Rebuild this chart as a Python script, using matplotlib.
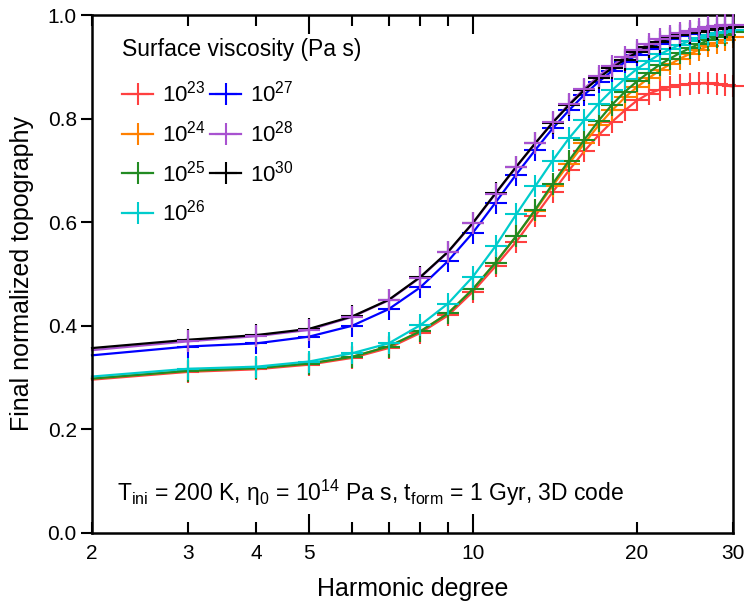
import numpy as np
import matplotlib
matplotlib.use("Agg")
import matplotlib.pyplot as plt
from matplotlib.ticker import FixedLocator, FixedFormatter

plt.rcParams['font.family'] = ['Liberation Sans', 'DejaVu Sans']
plt.rcParams['mathtext.fontset'] = 'custom'
plt.rcParams['mathtext.rm'] = 'Liberation Sans'
plt.rcParams['mathtext.it'] = 'Liberation Sans:italic'

# harmonic degrees 2..30
degree = list(range(2, 31))

# final normalized topography for each surface viscosity
topo_1e23 = [0.296, 0.311, 0.316, 0.325, 0.338, 0.357, 0.386, 0.420, 0.466, 0.515,
             0.562, 0.612, 0.658, 0.700, 0.737, 0.768, 0.794, 0.816, 0.835, 0.848,
             0.856, 0.861, 0.865, 0.867, 0.868, 0.868, 0.866, 0.864, 0.862]
topo_1e24 = [0.298, 0.313, 0.318, 0.327, 0.340, 0.360, 0.389, 0.424, 0.471, 0.522,
             0.573, 0.622, 0.670, 0.713, 0.752, 0.787, 0.816, 0.841, 0.861, 0.878,
             0.893, 0.905, 0.916, 0.925, 0.933, 0.940, 0.946, 0.952, 0.958]
topo_1e25 = [0.298, 0.313, 0.318, 0.327, 0.340, 0.360, 0.389, 0.424, 0.471, 0.522,
             0.573, 0.624, 0.674, 0.719, 0.759, 0.796, 0.827, 0.852, 0.872, 0.889,
             0.904, 0.916, 0.927, 0.936, 0.944, 0.951, 0.957, 0.962, 0.967]
topo_1e26 = [0.302, 0.317, 0.321, 0.331, 0.347, 0.366, 0.401, 0.443, 0.495, 0.554,
             0.615, 0.669, 0.719, 0.762, 0.797, 0.829, 0.855, 0.877, 0.896, 0.911,
             0.924, 0.934, 0.943, 0.950, 0.956, 0.961, 0.965, 0.968, 0.971]
topo_1e27 = [0.343, 0.360, 0.366, 0.379, 0.400, 0.432, 0.474, 0.525, 0.580, 0.638,
             0.692, 0.739, 0.781, 0.816, 0.846, 0.871, 0.892, 0.909, 0.923, 0.935,
             0.945, 0.953, 0.959, 0.964, 0.968, 0.971, 0.973, 0.975, 0.977]
topo_1e28 = [0.353, 0.370, 0.380, 0.392, 0.417, 0.449, 0.493, 0.542, 0.598, 0.655,
             0.706, 0.752, 0.793, 0.828, 0.858, 0.882, 0.902, 0.919, 0.932, 0.944,
             0.953, 0.960, 0.966, 0.970, 0.973, 0.976, 0.978, 0.980, 0.981]
topo_1e30 = [0.357, 0.373, 0.382, 0.394, 0.418, 0.450, 0.494, 0.543, 0.599, 0.656,
             0.707, 0.752, 0.792, 0.826, 0.855, 0.878, 0.898, 0.914, 0.928, 0.939,
             0.948, 0.955, 0.961, 0.965, 0.968, 0.971, 0.973, 0.975, 0.976]

series = [topo_1e23, topo_1e24, topo_1e25, topo_1e26, topo_1e27, topo_1e28, topo_1e30]
labels = [r"$\mathregular{10^{23}}$", r"$\mathregular{10^{24}}$", r"$\mathregular{10^{25}}$",
          r"$\mathregular{10^{26}}$", r"$\mathregular{10^{27}}$", r"$\mathregular{10^{28}}$",
          r"$\mathregular{10^{30}}$"]
colors = ["#ff4040", "#ff8000", "#228b22", "#00cccc", "#0000ff", "#a852d0", "#000000"]

fig = plt.figure(figsize=(7.47, 6.08), dpi=100)
ax = fig.add_axes([0.1232, 0.1234, 0.8581, 0.8519])

for y, lab, col in zip(series, labels, colors):
    ax.plot(degree, y, color=col, lw=1.6, marker='+', markersize=16, mew=1.5,
            markevery=slice(1, None), label=lab, clip_on=False)

# purple markers sit on top of the black curve in the original
ax.plot(degree, topo_1e28, ls='none', color=colors[5], marker='+', markersize=16,
        mew=1.5, markevery=slice(1, None), clip_on=False, zorder=3)

ax.set_xscale('log')
ax.set_xlim(2, 30)
ax.set_ylim(0, 1.0)

# x ticks: long at 5 and 10, short elsewhere, inward top and bottom
ax.xaxis.set_major_locator(FixedLocator([5, 10]))
ax.xaxis.set_major_formatter(FixedFormatter(["5", "10"]))
ax.xaxis.set_minor_locator(FixedLocator([2, 3, 4, 6, 7, 8, 9, 20, 30]))
ax.xaxis.set_minor_formatter(FixedFormatter(["2", "3", "4", "", "", "", "", "20", "30"]))
ax.tick_params(axis='x', which='major', direction='in', length=14, width=1.5,
               top=True, labelsize=15, pad=8)
ax.tick_params(axis='x', which='minor', direction='in', length=8, width=1.5,
               top=True, labelsize=15, pad=8)
ax.set_yticks([0.0, 0.2, 0.4, 0.6, 0.8, 1.0])
ax.set_yticklabels(["0.0", "0.2", "0.4", "0.6", "0.8", "1.0"])
ax.tick_params(axis='y', direction='out', length=8, width=1.5, labelsize=15, pad=3)

for sp in ax.spines.values():
    sp.set_linewidth(1.8)

ax.set_xlabel("Harmonic degree", fontsize=18, labelpad=10)
ax.set_ylabel("Final normalized topography", fontsize=18, labelpad=10)

handles, labs = ax.get_legend_handles_labels()
leg = ax.legend(handles, labs, loc='upper left', bbox_to_anchor=(0.047, 0.955), ncol=2,
                frameon=False, title="Surface viscosity (Pa s)", title_fontsize=16.5,
                fontsize=16, handlelength=1.4, handletextpad=0.4, columnspacing=0.2,
                labelspacing=0.62, borderpad=0, borderaxespad=0)
leg._legend_box.align = "left"
leg._legend_box.sep = 14

ax.text(0.039, 0.078,
        r"T$_{\mathregular{ini}}$ = 200 K, $\mathregular{\eta_0}$ = 10$^{\mathregular{14}}$ Pa s, "
        r"t$_{\mathregular{form}}$ = 1 Gyr, 3D code",
        transform=ax.transAxes, fontsize=16.5, va='center', ha='left')

fig.savefig("out.png", dpi=100)
